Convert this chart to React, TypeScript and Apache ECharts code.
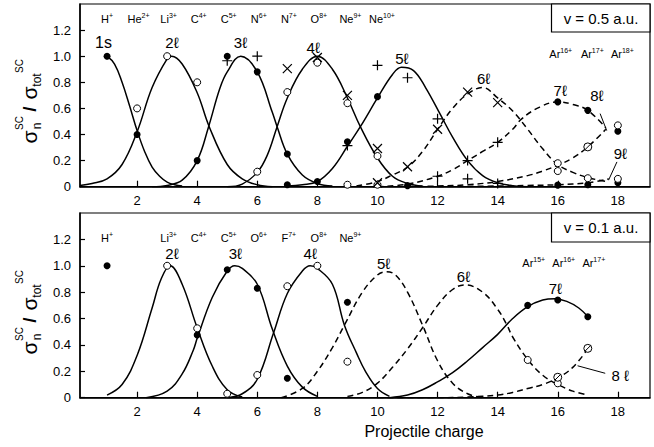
import React, { useEffect, useRef } from 'react';
import * as echarts from 'echarts';

const FONT = 'Liberation Sans, Arial, Helvetica, sans-serif';

const xTicks = [2, 4, 6, 8, 10, 12, 14, 16, 18];
const yTicks = [0, 0.2, 0.4, 0.6, 0.8, 1.0, 1.2];

// ---------- top panel: v = 0.5 a.u. ----------
const top1s = [[1, 1.0], [1.25, 0.94], [1.5, 0.8], [1.75, 0.62], [2, 0.43], [2.25, 0.27], [2.5, 0.15], [2.75, 0.08], [3, 0.035], [3.25, 0.015], [3.5, 0.005]];
const top2l = [[0.1, 0.01], [0.5, 0.025], [1, 0.06], [1.5, 0.17], [2, 0.42], [2.5, 0.76], [3, 0.98], [3.15, 1.0], [3.5, 0.94], [4, 0.72], [4.4, 0.46], [5, 0.17], [5.5, 0.06], [6, 0.015], [6.5, 0.0]];
const top3l = [[2.5, 0.0], [3, 0.01], [3.5, 0.05], [4, 0.2], [4.38, 0.46], [4.75, 0.75], [5, 0.88], [5.45, 1.0], [6, 0.88], [6.5, 0.57], [6.66, 0.46], [7, 0.25], [7.5, 0.09], [8, 0.025], [8.5, 0.005]];
const top4l = [[5, 0.0], [5.5, 0.02], [6, 0.11], [6.33, 0.24], [6.66, 0.46], [7, 0.68], [7.5, 0.9], [8, 1.0], [8.5, 0.9], [9, 0.68], [9.43, 0.46], [10, 0.22], [10.5, 0.08], [11, 0.025], [11.5, 0.005]];
const top5l = [[7, 0.005], [7.5, 0.015], [8, 0.04], [8.5, 0.14], [9, 0.31], [9.43, 0.46], [10, 0.68], [10.5, 0.86], [10.8, 0.915], [11.2, 0.89], [11.6, 0.76], [12.1, 0.55], [12.5, 0.38], [13, 0.2], [13.5, 0.085], [14, 0.03], [14.5, 0.008], [15, 0.0]];
const top6l = [[9.3, 0.005], [10, 0.04], [10.5, 0.09], [11, 0.15], [11.5, 0.27], [12, 0.44], [12.5, 0.6], [13, 0.71], [13.5, 0.76], [14, 0.68], [14.5, 0.58], [15, 0.44], [15.5, 0.29], [16, 0.17], [16.5, 0.11], [17, 0.07], [17.6, 0.04]];
const top7l = [[10, 0.0], [11, 0.02], [12, 0.08], [12.5, 0.13], [13, 0.2], [13.5, 0.27], [14, 0.34], [14.5, 0.44], [14.8, 0.52], [15.4, 0.61], [16, 0.65], [16.5, 0.63], [17, 0.585], [17.6, 0.45]];
const top8l = [[11, 0.0], [12, 0.005], [13, 0.015], [14, 0.04], [15, 0.085], [15.5, 0.12], [16, 0.165], [16.5, 0.22], [17, 0.305], [17.6, 0.44]];
const top9l = [[12, 0.0], [14, 0.005], [15, 0.01], [16, 0.015], [17, 0.03], [17.7, 0.06]];

const topFilled = [[1, 1.0], [2, 0.4], [4, 0.2], [5, 1.0], [6, 0.88], [7, 0.25], [7, 0.015], [8, 0.04], [9, 0.345], [10, 0.69], [11, 0.008], [16, 0.65], [16, 0.012], [17, 0.585], [17, 0.015], [18, 0.425], [18, 0.03]];
const topOpen = [[2, 0.6], [3, 1.0], [4, 0.8], [6, 0.115], [7, 0.725], [8, 0.95], [9, 0.64], [9, 0.015], [10, 0.235], [10, 0.015], [16, 0.18], [16, 0.12], [17, 0.065], [18, 0.47], [18, 0.06]];
const topPlus = [[5, 0.965], [6, 1.0], [9, 0.315], [10, 0.93], [11, 0.835], [12, 0.52], [12, 0.08], [13, 0.2], [13, 0.06], [14, 0.34], [14, 0.025]];
const topCross = [[7, 0.905], [8, 0.99], [9, 0.7], [10, 0.293], [10, 0.03], [11, 0.153], [12, 0.44], [13, 0.725], [14, 0.644]];
const topSlash = [[17, 0.305]];

const topIons = [[1, 'H', '+'], [2.05, 'He', '2+'], [3.05, 'Li', '3+'], [4.05, 'C', '4+'], [5.05, 'C', '5+'], [6.05, 'N', '6+'], [7.05, 'N', '7+'], [8.05, 'O', '8+'], [9.1, 'Ne', '9+'], [10.15, 'Ne', '10+']];
const topIonY = 1.285;
const topArIons = [[16.1, 'Ar', '16+'], [17.15, 'Ar', '17+'], [18.15, 'Ar', '18+']];
const topArY = 1.02;
const topCurveLabels = [[0.88, 1.107, '1s'], [3.16, 1.107, '2ℓ'], [5.44, 1.107, '3ℓ'], [7.86, 1.068, '4ℓ'], [10.81, 0.98, '5ℓ'], [13.53, 0.83, '6ℓ'], [16.08, 0.74, '7ℓ'], [17.3, 0.7, '8ℓ'], [18.08, 0.255, '9ℓ']];
const topArrows = [[[17.41, 0.56], [17.63, 0.43]], [[17.97, 0.19], [17.69, 0.05]]];

// ---------- bottom panel: v = 0.1 a.u. ----------
const bot2l = [[1, 0.02], [1.5, 0.1], [2, 0.32], [2.5, 0.68], [2.8, 0.9], [3.1, 1.0], [3.5, 0.86], [4, 0.53], [4.5, 0.24], [5, 0.06], [5.5, 0.005]];
const bot3l = [[2.3, 0.0], [3, 0.05], [3.5, 0.18], [3.87, 0.36], [4, 0.45], [4.5, 0.76], [5, 0.96], [5.25, 1.0], [5.5, 0.98], [6, 0.86], [6.5, 0.52], [7, 0.24], [7.5, 0.08], [8, 0.01]];
const bot4l = [[5, 0.0], [5.5, 0.03], [6, 0.14], [6.54, 0.49], [7, 0.79], [7.5, 0.96], [7.76, 1.0], [8, 0.98], [8.5, 0.86], [8.9, 0.55], [9.3, 0.34], [9.6, 0.2], [10, 0.07], [10.4, 0.01]];
const bot5l = [[6.8, 0.0], [7.5, 0.07], [8, 0.2], [8.5, 0.38], [8.9, 0.55], [9.5, 0.8], [10, 0.93], [10.3, 0.955], [10.6, 0.93], [11, 0.8], [11.5, 0.55], [12, 0.28], [12.5, 0.11], [13, 0.03], [13.5, 0.0]];
const bot6l = [[9, 0.01], [9.5, 0.04], [10, 0.11], [10.5, 0.23], [11, 0.37], [11.5, 0.53], [12, 0.7], [12.5, 0.82], [12.9, 0.855], [13.5, 0.8], [14, 0.67], [14.31, 0.55], [14.5, 0.46], [15, 0.29], [15.5, 0.17], [16, 0.1], [16.5, 0.05], [17, 0.02]];
const bot7l = [[10.4, 0.0], [11, 0.02], [11.5, 0.06], [12, 0.12], [12.5, 0.19], [13, 0.28], [13.5, 0.38], [14, 0.48], [14.5, 0.6], [15, 0.69], [15.5, 0.74], [15.9, 0.75], [16.3, 0.73], [16.7, 0.68], [17, 0.615]];
const bot8l = [[10, 0.0], [12, 0.0], [13, 0.005], [14, 0.02], [14.5, 0.04], [15, 0.07], [15.5, 0.1], [16, 0.15], [16.5, 0.23], [17, 0.37]];

const botFilled = [[1, 1.0], [4, 0.475], [5, 0.97], [6, 0.83], [7, 0.147], [9, 0.723], [15, 0.7], [16, 0.74], [17, 0.614]];
const botOpen = [[3, 1.0], [4, 0.526], [5, 0.03], [6, 0.172], [7, 0.845], [8, 1.0], [9, 0.273], [15, 0.286], [16, 0.109]];
const botSlash = [[16, 0.155], [17, 0.374]];

const botIons = [[1, 'H', '+'], [3.05, 'Li', '3+'], [4.05, 'C', '4+'], [5.05, 'C', '5+'], [6.05, 'O', '6+'], [7.05, 'F', '7+'], [8.05, 'O', '8+'], [9.1, 'Ne', '9+']];
const botIonY = 1.207;
const botArIons = [[15.2, 'Ar', '15+'], [16.2, 'Ar', '16+'], [17.2, 'Ar', '17+']];
const botArY = 1.018;
const botCurveLabels = [[3.16, 1.094, '2ℓ'], [5.27, 1.094, '3ℓ'], [7.76, 1.094, '4ℓ'], [10.2, 1.018, '5ℓ'], [12.86, 0.917, '6ℓ'], [15.92, 0.83, '7ℓ'], [18.08, 0.17, '8 ℓ']];
const botArrows = [[[17.58, 0.185], [16.66, 0.242]]];

const PLUS = 'path://M5,0L5,10M0,5L10,5';
const CROSS = 'path://M0,0L10,10M0,10L10,0';
const SLASH = 'path://M1,5A4,4,0,1,1,9,5A4,4,0,1,1,1,5ZM2,8L8,2';

function curve(data: number[][], g: number, dashed: boolean) {
  return {
    type: 'line', xAxisIndex: g, yAxisIndex: g, data, smooth: 0.4, symbol: 'none', z: 2, silent: true,
    lineStyle: { color: '#000', width: 1.5, type: dashed ? [6, 4] : 'solid' },
  };
}

function marks(data: number[][], g: number, kind: string) {
  let symbol: string = 'circle';
  let size = 7;
  let itemStyle: any = { color: '#000', opacity: 1 };
  if (kind === 'open') itemStyle = { color: '#fff', borderColor: '#000', borderWidth: 1, opacity: 1 };
  if (kind === 'plus') { symbol = PLUS; size = 10; itemStyle = { color: 'rgba(0,0,0,0)', borderColor: '#000', borderWidth: 1.2, opacity: 1 }; }
  if (kind === 'cross') { symbol = CROSS; size = 9; itemStyle = { color: 'rgba(0,0,0,0)', borderColor: '#000', borderWidth: 1.2, opacity: 1 }; }
  if (kind === 'slash') { symbol = SLASH; size = 8; itemStyle = { color: '#fff', borderColor: '#000', borderWidth: 1, opacity: 1 }; }
  return { type: 'scatter', xAxisIndex: g, yAxisIndex: g, data, symbol, symbolSize: size, itemStyle, z: 3, silent: true };
}

const richBase = {
  m: { fontSize: 11, fontFamily: FONT, color: '#000', lineHeight: 14, opacity: 1 },
  s: { fontSize: 7, fontFamily: FONT, color: '#000', lineHeight: 8, verticalAlign: 'top', opacity: 1 },
  c: { fontSize: 15, fontFamily: FONT, color: '#000', opacity: 1 },
  b: { fontSize: 16, fontFamily: FONT, color: '#000', opacity: 1 },
};

function labelSeries(g: number, ions: any[], ionY: number, ar: any[], arY: number, curveLabels: any[], arrows: number[][][]) {
  const items: any[] = [];
  ions.forEach((d) => items.push({ value: [d[0], ionY], base: d[1], sup: d[2] }));
  ar.forEach((d) => items.push({ value: [d[0], arY], base: d[1], sup: d[2] }));
  curveLabels.forEach((d) => items.push({ value: [d[0], d[1]], curve: d[2] }));
  return {
    type: 'scatter', xAxisIndex: g, yAxisIndex: g, data: items, symbolSize: 1, silent: true, z: 4,
    itemStyle: { color: 'rgba(0,0,0,0)', opacity: 1 },
    label: {
      show: true, position: 'inside', color: '#000', opacity: 1,
      formatter: (p: any) => {
        const d = p.data;
        if (d.curve) return d.curve === '1s' ? `{b|${d.curve}}` : `{c|${d.curve}}`;
        return `{m|${d.base}}{s|${d.sup}}`;
      },
      rich: richBase,
    },
    markLine: {
      silent: true, symbol: ['none', 'arrow'], symbolSize: [0, 7], animation: false,
      lineStyle: { color: '#000', width: 1, type: 'solid', opacity: 1 },
      itemStyle: { color: '#000', opacity: 1 },
      label: { show: false },
      data: arrows.map((a) => [{ coord: a[0] }, { coord: a[1] }]),
    },
  };
}

function yTitle(dy: number) {
  const parts = [
    { t: 'σ', x: 29, y: 137, fs: 21 },
    { t: 'n', x: 37, y: 126, fs: 12 },
    { t: 'SC', x: 19, y: 123, fs: 10 },
    { t: '/', x: 29, y: 109, fs: 19, fw: 'bold' },
    { t: 'σ', x: 29, y: 93, fs: 21 },
    { t: 'tot', x: 37, y: 80, fs: 12 },
    { t: 'SC', x: 19, y: 66, fs: 10 },
  ];
  return parts.map((p) => ({
    type: 'text', x: p.x, y: p.y + dy, rotation: Math.PI / 2, silent: true,
    style: { text: p.t, fontSize: p.fs, fontFamily: FONT, fontWeight: p.fw || 'normal', fill: '#000', align: 'center', verticalAlign: 'middle' },
  }));
}

function vBox(y: number, h: number, text: string) {
  return [
    { type: 'rect', shape: { x: 551.5, y, width: 98.5, height: h }, style: { fill: '#fff', stroke: '#000', lineWidth: 1.2 }, z: 10 },
    { type: 'text', x: 601, y: y + h / 2, z: 11, style: { text, fontSize: 15, fontFamily: FONT, fill: '#000', align: 'center', verticalAlign: 'middle' } },
  ];
}

function xAxisDef(g: number) {
  return {
    type: 'value', gridIndex: g, min: 0.1, max: 19.07,
    axisLine: { show: true, onZero: false, lineStyle: { color: '#000', width: 1.5 } },
    axisTick: { show: true, inside: true, length: 6, customValues: xTicks, lineStyle: { color: '#000', width: 1.2 } },
    axisLabel: { show: true, customValues: xTicks, fontSize: 13, fontFamily: FONT, color: '#000', margin: 7 },
    splitLine: { show: false },
  };
}

function yAxisDef(g: number) {
  return {
    type: 'value', gridIndex: g, min: 0, max: 1.4,
    axisLine: { show: true, onZero: false, lineStyle: { color: '#000', width: 1.5 } },
    axisTick: { show: true, inside: true, length: 5, customValues: yTicks, lineStyle: { color: '#000', width: 1.2 } },
    axisLabel: {
      show: true, customValues: yTicks, fontSize: 13, fontFamily: FONT, color: '#000', margin: 9,
      formatter: (v: number) => (v === 0 ? '0' : v.toFixed(1)),
    },
    splitLine: { show: false },
  };
}

export default function App() {
  const ref = useRef<HTMLDivElement>(null);
  useEffect(() => {
    if (!ref.current) return;
    const chart = echarts.init(ref.current, null, { renderer: 'svg' });
    const option: any = {
      animation: false,
      backgroundColor: '#fff',
      textStyle: { fontFamily: FONT },
      grid: [
        { left: 80, top: 4, width: 570, height: 182.7, show: true, borderColor: '#000', borderWidth: 1.2, backgroundColor: 'transparent' },
        { left: 80, top: 213, width: 570, height: 184.7, show: true, borderColor: '#000', borderWidth: 1.2, backgroundColor: 'transparent' },
      ],
      xAxis: [xAxisDef(0), xAxisDef(1)],
      yAxis: [yAxisDef(0), yAxisDef(1)],
      series: [
        curve(top1s, 0, false), curve(top2l, 0, false), curve(top3l, 0, false), curve(top4l, 0, false), curve(top5l, 0, false),
        curve(top6l, 0, true), curve(top7l, 0, true), curve(top8l, 0, true), curve(top9l, 0, true),
        marks(topFilled, 0, 'filled'), marks(topOpen, 0, 'open'), marks(topPlus, 0, 'plus'), marks(topCross, 0, 'cross'), marks(topSlash, 0, 'slash'),
        labelSeries(0, topIons, topIonY, topArIons, topArY, topCurveLabels, topArrows),
        curve(bot2l, 1, false), curve(bot3l, 1, false), curve(bot4l, 1, false), curve(bot5l, 1, true),
        curve(bot6l, 1, true), curve(bot7l, 1, false), curve(bot8l, 1, true),
        marks(botFilled, 1, 'filled'), marks(botOpen, 1, 'open'), marks(botSlash, 1, 'slash'),
        labelSeries(1, botIons, botIonY, botArIons, botArY, botCurveLabels, botArrows),
      ],
      graphic: [
        ...yTitle(0),
        ...yTitle(211),
        ...vBox(4, 28, 'v = 0.5 a.u.'),
        ...vBox(213, 29, 'v = 0.1 a.u.'),
        { type: 'text', x: 424, y: 431, style: { text: 'Projectile charge', fontSize: 16, fontFamily: FONT, fill: '#000', align: 'center', verticalAlign: 'middle' } },
      ],
    };
    chart.setOption(option);
    return () => chart.dispose();
  }, []);
  return <div ref={ref} style={{ position: 'fixed', left: 0, top: 0, width: 654, height: 447, background: '#fff' }} />;
}
